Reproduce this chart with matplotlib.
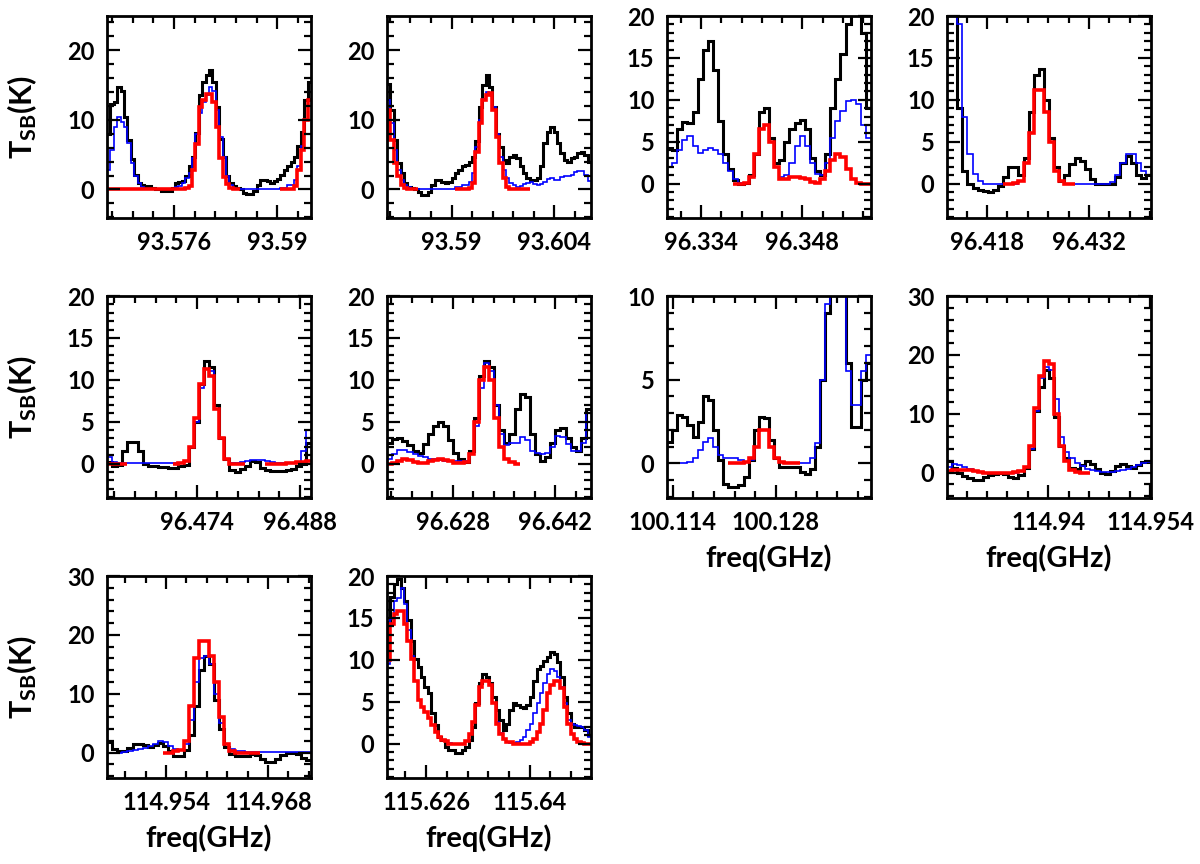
import numpy as np
import matplotlib
matplotlib.use("Agg")
import matplotlib.pyplot as plt
from matplotlib.ticker import MultipleLocator, FuncFormatter

nan = np.nan

plt.rcParams['font.family'] = ['Lato', 'DejaVu Sans']
plt.rcParams['font.weight'] = 'bold'
plt.rcParams['axes.labelweight'] = 'bold'
plt.rcParams['mathtext.default'] = 'regular'

# frequency span (GHz) of each panel, channels are spread evenly over it
range1 = (93.5669, 93.5946)
range2 = (93.5812, 93.6090)
range3 = (96.3293, 96.3575)
range4 = (96.4125, 96.4405)
range5 = (96.4618, 96.4895)
range6 = (96.6190, 96.6469)
range7 = (100.1132, 100.1410)
range8 = (114.9261, 114.9541)
range9 = (114.9459, 114.9739)
range10 = (115.6207, 115.6483)

# observed spectra (black), full model (blue), fitted line (red), T_SB in K
black1 = [8, 12.3, 12.5, 14.7, 14.2, 10.4, 7.1, 4.3, 2.1, 0.9,
          0.7, 0.5, 0.5, 0.2, 0.1, 0.1, -0.2, -0.2, -0.2, 0.2,
          0.9, 1.0, 1.2, 1.9, 3.3, 4.7, 8.1, 13.5, 15.4, 16.4,
          17.1, 15.4, 11.8, 7.3, 4.7, 1.9, 0.9, 0.5, 0.2, 0,
          -0.5, -0.7, -0.7, -0.2, 0.7, 1.3, 1.3, 1.2, 0.9, 1.2,
          1.5, 2.1, 2.8, 3.3, 4.0, 4.7, 6.2, 8.3, 12.8, 15.4]
blue1 = [2.8, 5.7, 9, 10.4, 9.7, 9, 6.6, 3.8, 1.9, 0.9,
         0.3, 0.1, 0, 0, 0, 0, 0, 0, 0, 0,
         0.3, 0.5, 0.9, 1.7, 2.4, 4.5, 8, 11, 12.5, 13.5,
         14.7, 14.2, 11.4, 7.6, 4.7, 1.9, 0.7, 0.2, 0, 0,
         0, 0, 0, 0, 0, 0, 0, 0, 0, 0,
         0, 0.2, 0.2, 0.7, 0.7, 1.4, 3.3, 6.2, 10, 12.8]
red1 = [0, 0, 0, 0, 0, 0, 0, 0, 0, 0,
        0, 0, 0, 0, 0, 0, 0, 0, 0, 0,
        0, 0, 0, 0.2, 0.5, 2.8, 6.5, 11.8, 12.8, 13.7,
        13.7, 12.5, 9, 4.5, 1.8, 0.8, 0.2, 0, 0, nan,
        nan, nan, nan, nan, nan, nan, nan, nan, nan, nan,
        nan, 0, 0, 0, 0.1, 0.5, 2.8, 5.7, 10, 12.8]

black2 = [15.2, 11.4, 7.1, 3.8, 2.3, 0.9, 0.4, 0.2, 0, -0.4,
          -0.8, -0.8, -0.3, 0.7, 1.3, 1.3, 1.0, 0.9, 1.1, 1.6,
          2.3, 2.8, 3.3, 3.5, 4.0, 4.7, 7, 11.9, 15, 16.4,
          14.7, 11.9, 8.0, 6.1, 4.2, 3.8, 4.7, 5.0, 4.5, 3.3,
          2.3, 1.6, 1.4, 1.4, 1.6, 3.3, 6.6, 8.3, 9.0, 8.3,
          6.6, 5.2, 4.2, 4.0, 4.5, 4.7, 5.2, 5.4, 5.0, 4.0]
blue2 = [12.8, 9.5, 5.7, 2.8, 1.4, 0.7, 0.3, 0, 0, 0,
         0, 0, 0, 0, 0, 0, 0, 0, 0, 0,
         0.3, 0.3, 0.7, 0.7, 1.1, 2.3, 6.1, 10, 13, 14,
         13.8, 11.9, 8, 4.7, 2.8, 1.6, 0.9, 0.6, 0.4, 0.5,
         0.8, 0.9, 1.0, 0.8, 0.7, 0.8, 1.0, 1.5, 1.6, 1.4,
         1.4, 1.8, 1.9, 2.0, 2.1, 2.5, 2.7, 2.7, 2.1, 1.2]
red2 = [11.4, 7.1, 3.8, 1.9, 0.7, 0.2, 0.1, 0, 0, nan,
        nan, nan, nan, nan, nan, nan, nan, nan, nan, nan,
        0, 0, 0, 0, 0.2, 0.9, 5.4, 9.5, 12.8, 13.5,
        13.8, 11.4, 7.6, 3.8, 1.6, 0.4, 0, 0, 0, 0,
        0, 0, nan, nan, nan, nan, nan, nan, nan, nan,
        nan, nan, nan, nan, nan, nan, nan, nan, nan, nan]

black3 = [4.2, 4.0, 6.5, 7.3, 7.2, 8.5, 12.5, 16, 17, 13.5, 7.5, 3.5, 1.8, 0.4, 0, 0.1, 1, 3.5, 8.5, 9,
          5.5, 2.5, 2.8, 5, 6.5, 7.2, 7.6, 6.5, 3, 1.5, 1.0, 3.5, 9, 12.5, 15.5, 19, 22, 22, 18, 9]
blue3 = [2.0, 2.5, 4, 5.2, 5.7, 4.5, 3.7, 4.0, 4.2, 4.0, 3.5, 2.5, 1.5, 0.6, 0.1, 0.1, 0.8, 3.5, 6.5, 7,
         5, 2, 0.8, 1.0, 2.5, 4.5, 5.7, 4.5, 2.5, 1.2, 1.0, 2.5, 5.5, 7.5, 8.7, 9.8, 10, 9.5, 7, 5.5]
red3 = [nan, nan, nan, nan, nan, nan, nan, nan, nan, nan, nan, nan, nan, 0, 0, 0.1, 0.8, 3.5, 6.5, 7.0,
        5, 2, 0.5, 0.5, 0.8, 0.8, 0.7, 0.5, 0.2, 0.1, 0.5, 1.5, 2.8, 3.5, 3.2, 1.8, 0.5, 0.1, 0, 0]

black4 = [25, 25, 9, 1.5, 0, -0.5, -0.8, -0.9, -1.0, -0.8, -0.3, 0.8, 2.0, 2.0, 1.0, 3.0, 8.5, 13, 13.7, 10,
          5.5, 2, 0.3, 1.0, 2.3, 3.0, 2.7, 1.8, 0.5, 0, 0, 0, 0, 0.8, 2.5, 3.3, 2.5, 1.0, 0.7, 1.0]
blue4 = [25, 25, 19, 8, 3.5, 1.2, 0.3, 0, 0, 0, 0, 0, 0, 0, 0.3, 2.5, 6, 11.2, 11.2, 8.5,
         5, 1.5, 0.3, 0, 0, 0, 0, 0, 0, 0, 0, 0, 0.2, 1.0, 2.5, 3.5, 3.5, 2.5, 1.5, 1.0]
red4 = [nan, nan, nan, nan, nan, nan, nan, nan, nan, nan, nan, 0, 0, 0.1, 0.3, 2.5, 6, 11.2, 11.2, 8.5,
        5, 1.5, 0.3, 0, 0, nan, nan, nan, nan, nan, nan, nan, nan, nan, nan, nan, nan, nan, nan, nan]

black5 = [0.2, -0.3, -0.2, 1.5, 2.6, 2.6, 1.5, 0, -0.3, -0.3, -0.4, -0.4, -0.5, -0.5, -0.3, -0.2, 2, 5, 9.5, 12.2,
          11.5, 7, 3, 0.5, -0.8, -1.0, -0.6, -0.3, 0.3, 0.2, -0.5, -0.8, -0.9, -0.9, -0.9, -0.8, -0.6, -0.3, 0, 2.5]
blue5 = [0.8, 0.2, 0.05, 0.05, 0.05, 0.05, 0.05, 0.05, 0.05, 0.05, 0.05, 0.05, 0.05, 0.05, 0.05, 0.3, 2, 5, 9, 11.3,
         11, 6.5, 3, 0.5, 0.1, 0.1, 0.2, 0.3, 0.4, 0.4, 0.4, 0.3, 0.2, 0.1, 0.1, 0.1, 0.1, 0.2, 1.5, 4]
red5 = [0, 0, 0, 0, nan, nan, nan, nan, nan, nan, nan, nan, nan, 0, 0.1, 0.3, 2, 5.5, 9.5, 11.3,
        10.5, 6.5, 3, 0.5, 0, 0, 0, nan, nan, nan, nan, 0, 0, 0, 0, 0.1, 0.1, 0.2, 0.2, 0.3]

black6 = [2.5, 2.9, 3.0, 2.7, 2.2, 1.5, 1.3, 2.3, 3.5, 4.5, 5.0, 4.5, 2.8, 1.3, 0.6, 0.2, 1.5, 5.5, 10.5, 12.2,
          11.5, 7, 4, 2.5, 3.5, 6.5, 8.3, 8.0, 3.5, 1.2, 0.3, 0.8, 2.5, 4.0, 4.2, 3.0, 2.0, 1.5, 3.0, 6.5]
blue6 = [0.6, 1.2, 1.6, 1.6, 1.4, 1.1, 0.9, 0.8, 0.6, 0.5, 0.4, 0.3, 0.3, 0.3, 0.3, 0.3, 1.2, 4.5, 9, 12,
         11, 7, 3.5, 2.2, 2.5, 2.5, 3.2, 2.8, 1.5, 1.3, 1.2, 1.3, 2, 3.3, 3.2, 2.3, 1.5, 1.5, 2.5, 6]
red6 = [0, 0.1, 0.3, 0.5, 0.4, 0.2, 0.1, 0.1, 0.3, 0.4, 0.5, 0.4, 0.3, 0.1, 0.1, 0.2, 1.2, 5, 10, 11.5,
        10, 5.5, 2.0, 0.6, 0.2, 0.0, nan, nan, nan, nan, nan, nan, nan, nan, nan, nan, nan, nan, nan, nan]

black7 = [1.3, 2.0, 2.9, 2.8, 2.3, 1.6, 2.5, 4.0, 3.8, 2.0, 0.2, -1.2, -1.4, -1.4, -1.3, -0.8, 0.2, 2.0, 2.8, 2.7,
          1.4, 0.3, -0.2, -0.2, -0.2, -0.2, -0.5, -0.6, -0.3, 1.0, 5, 9, 14, 16, 14, 6, 2.2, 2.2, 5, 6]
blue7 = [0, 0, 0, 0, 0.1, 0.3, 0.8, 1.3, 1.5, 1.0, 0.5, 0.3, 0.3, 0.3, 0.2, 0.1, 0.2, 1.0, 2.0, 2.0,
         1.0, 0.3, 0.1, 0, 0, 0, 0, 0, 0.3, 1.2, 5, 9.5, 14, 16, 14, 5.5, 3.5, 3.5, 5.5, 6.5]
red7 = [nan, nan, nan, nan, nan, nan, nan, nan, nan, nan, nan, nan, 0, 0, 0, 0.1, 0.3, 1.0, 2.0, 2.0,
        1.0, 0.3, 0.1, 0, 0, 0, nan, nan, nan, nan, nan, nan, nan, nan, nan, nan, nan, nan, nan, nan]

black8 = [2.0, 0.8, 0, -0.5, -0.9, -1.2, -1.2, -0.8, -0.4, -0.2, 0, -0.2, -0.8, -0.9, -0.4, 0.8, 4, 10.5, 14.5, 17.5,
          16, 9.5, 4.5, 2.5, 0.8, 0.7, 1.3, 2.0, 1.5, 0.6, 0, -0.2, 0.3, 1.2, 1.5, 1.2, 0.8, 1.3, 1.8, 1.8]
blue8 = [1.0, 1.5, 1.3, 1.0, 0.6, 0.3, 0.1, 0, 0, 0, 0, 0, 0, 0, 0.3, 1.0, 4, 10.5, 16, 18,
         17.5, 12.5, 6, 3.5, 2.5, 1.6, 1.1, 0.7, 0.4, 0.2, 0.1, 0.1, 0.1, 0.2, 0.4, 0.6, 0.9, 1.3, 1.7, 1.8]
red8 = [0.3, 0.5, 0.5, 0.5, 0.4, 0.2, 0.1, 0, 0, 0, 0, 0, 0, 0.1, 0.3, 1.0, 4.5, 11, 16.5, 19,
        18.5, 10, 4.5, 2, 0.5, 0.1, 0, 0, nan, nan, nan, nan, nan, nan, nan, nan, nan, nan, nan, nan]

black9 = [1.8, 0.6, 0.3, 0.3, 0.8, 1.5, 1.5, 1.3, 1.0, 1.3, 1.7, 1.2, 0.2, -0.5, -0.6, 0.5, 3, 8, 14, 16.5,
          15, 9, 4, 1, -0.3, -0.5, -0.5, -0.5, -0.3, -0.4, -1.0, -1.5, -1.5, -1.0, -0.4, 0, -0.1, -0.3, -0.9, -1.2]
blue9 = [0, 0, 0, 0.1, 0.2, 0.4, 0.6, 0.8, 1.1, 1.5, 2.0, 1.8, 1.2, 0.6, 0.4, 1.5, 5.5, 12, 16, 16.5,
         15, 10, 5, 1.5, 0.6, 0.3, 0.2, 0.1, 0.05, 0.05, 0.05, 0.05, 0.05, 0.05, 0.05, 0.05, 0.05, 0.05, 0.05, 0.05]
red9 = [nan, nan, nan, nan, nan, nan, nan, nan, nan, nan, nan, 0, 0, 0.2, 0.5, 2, 8, 16, 19, 19,
        16.5, 12, 6, 1.5, 0.2, 0, 0, 0, 0, 0, nan, nan, nan, nan, nan, nan, nan, nan, nan, nan]

black10 = [14.5, 17.5, 19, 19.7, 18.6, 17, 14.7, 12.3, 10.1, 9.1,
           7.9, 6.8, 6, 3.6, 2.2, 0.8, 0.4, -0.4, -0.8, -0.8,
           -1.1, -1.1, -0.8, -0.4, 0.4, 2, 4.8, 7.2, 8.3, 7.9,
           7.2, 5.6, 4, 2.8, 1.6, 2.4, 4, 4.8, 4.6, 4.4,
           4.2, 4.6, 5.6, 7.5, 8.9, 9.3, 9.9, 10.3, 10.9, 10.7,
           9.7, 7.9, 5.6, 3.6, 2.4, 2, 2, 2, 1.6, 1.0]
blue10 = [9.5, 14.9, 17, 17.4, 18.6, 16.6, 13.5, 10.5, 7.5, 5.2,
          4.4, 3.8, 3.0, 2.2, 1.4, 0.8, 0.4, 0.3, 0.1, 0,
          0, 0, 0, 0.3, 1.2, 2.6, 4.6, 6.8, 7.5, 7.5,
          7, 4.8, 2.6, 1.3, 0.6, 0.2, 0.1, 0.1, 0.2, 0.4,
          0.8, 1.6, 2.4, 3.6, 4.8, 6, 7.2, 8.3, 8.9, 8.7,
          7.9, 6.8, 4.8, 2.8, 2.4, 2.2, 2.1, 2, 1.6, 0.8]
red10 = [10, 14.3, 15.5, 15.8, 15.8, 14.3, 12.3, 10.1, 7.5, 5.2,
         4.4, 3.8, 3.0, 2.2, 1.4, 0.8, 0.4, 0.3, 0, 0,
         0, 0, 0, 0.3, 1.2, 2.6, 4.6, 6.8, 7.5, 7.5,
         7, 4.8, 2.4, 1.2, 0.6, 0.2, 0.2, 0, 0, 0,
         0, 0, 0.2, 0.6, 1.4, 2.4, 4, 6, 7, 7.5,
         7.5, 6.6, 4.4, 2.4, 1.2, 0.6, 0.2, 0.1, 0, 0]

spectra = [
    (range1, black1, blue1, red1),
    (range2, black2, blue2, red2),
    (range3, black3, blue3, red3),
    (range4, black4, blue4, red4),
    (range5, black5, blue5, red5),
    (range6, black6, blue6, red6),
    (range7, black7, blue7, red7),
    (range8, black8, blue8, red8),
    (range9, black9, blue9, red9),
    (range10, black10, blue10, red10),
]

# y limits, major step, minor step for each panel
yaxes = [
    ((-4.1, 24.9), 10, 2), ((-4.1, 24.9), 10, 2), ((-4.1, 20), 5, 1), ((-4.1, 20), 5, 1),
    ((-4.1, 20), 5, 1), ((-4.1, 20), 5, 1), ((-2.06, 10), 5, 1), ((-4.3, 30), 10, 2),
    ((-4.3, 30), 10, 2), ((-4.1, 20), 5, 1),
]

W, H = 1200, 864
fig = plt.figure(figsize=(12, 8.64), dpi=100)

col_left = [107, 387, 667, 947]
row_top = [16, 296, 576]
aw, ah = 204, 202


def freq_fmt(v, pos):
    return f"{v:.3f}".rstrip('0').rstrip('.')


for k, (rng, blk, blu, red) in enumerate(spectra):
    r, c = divmod(k, 4)
    ax = fig.add_axes([col_left[c] / W, 1 - (row_top[r] + ah) / H, aw / W, ah / H])
    edges = np.linspace(rng[0], rng[1], len(blk) + 1)
    ax.stairs(blk, edges, baseline=None, color='black', lw=2.2)
    ax.stairs(blu, edges, baseline=None, color='#0000ff', lw=1.2)
    ax.stairs(red, edges, baseline=None, color='#ff0000', lw=2.6)

    (y0, y1), ymaj, ymin = yaxes[k]
    ax.set_xlim(rng)
    ax.set_ylim(y0, y1)
    ax.xaxis.set_major_locator(MultipleLocator(0.014))
    ax.xaxis.set_minor_locator(MultipleLocator(0.0028))
    ax.xaxis.set_major_formatter(FuncFormatter(freq_fmt))
    ax.yaxis.set_major_locator(MultipleLocator(ymaj))
    ax.yaxis.set_minor_locator(MultipleLocator(ymin))
    ax.tick_params(which='both', direction='in', top=True, right=True,
                   width=1.6, labelsize=17)
    ax.tick_params(which='major', length=9.5, pad=9)
    ax.tick_params(which='minor', length=5)
    for s in ax.spines.values():
        s.set_linewidth(2)
    if k >= 6:
        ax.set_xlabel('freq(GHz)', fontsize=21, labelpad=8)

for r in range(3):
    fig.text(22 / W, 1 - (row_top[r] + ah / 2) / H, r'T$_{SB}$(K)',
             rotation=90, ha='center', va='center', fontsize=22)

fig.savefig('out.png', dpi=100)
